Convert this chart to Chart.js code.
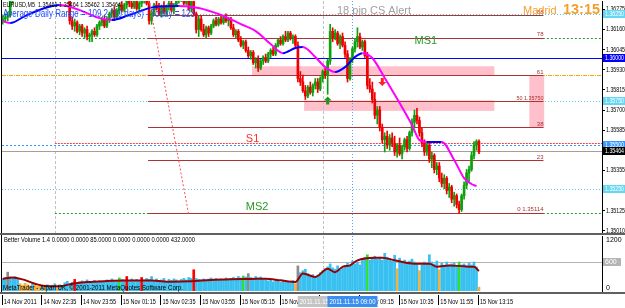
<!DOCTYPE html>
<html>
<head>
<meta charset="utf-8">
<script src="https://cdn.jsdelivr.net/npm/chart.js@4.4.0/dist/chart.umd.min.js"></script>
<style>
html, body { margin: 0; padding: 0; background: #fff; }
#wrap { position: relative; width: 625px; height: 308px; overflow: hidden; }
canvas { position: absolute; left: 0; }
#main { top: 0; }
#vol { top: 233px; }
</style>
</head>
<body>
<div id="wrap">
  <canvas id="main" width="625" height="233"></canvas>
  <canvas id="vol" width="625" height="75"></canvas>
</div>
<script>
// EURUSD M5 candles, bar 0 = 14 Nov 21:15
const open = [1.3621,1.3622,1.3623,1.3624,1.3633,1.3636,1.3635,1.3637,1.3638,1.3637,
 1.3639,1.3640,1.3639,1.3637,1.3639,1.3641,1.3640,1.3638,1.3640,1.3641,
 1.3638,1.3636,1.3638,1.3636,1.3637,1.3635,1.3636,1.3634,1.3621,1.3618,
 1.3620,1.3615,1.3618,1.3614,1.3616,1.3612,1.3613,1.3615,1.3613,1.3618,
 1.3620,1.3622,1.3618,1.3622,1.3625,1.3627,1.3623,1.3627,1.3630,1.3627,
 1.3630,1.3633,1.3631,1.3629,1.3632,1.3628,1.3631,1.3633,1.3634,1.3631,
 1.3621,1.3626,1.3630,1.3628,1.3625,1.3629,1.3626,1.3629,1.3631,1.3627,
 1.3630,1.3633,1.3634,1.3635,1.3631,1.3634,1.3628,1.3632,1.3625,1.3616,
 1.3622,1.3616,1.3613,1.3617,1.3614,1.3618,1.3621,1.3619,1.3622,1.3620,
 1.3623,1.3621,1.3622,1.3617,1.3613,1.3615,1.3610,1.3607,1.3609,1.3604,
 1.3601,1.3603,1.3597,1.3599,1.3594,1.3598,1.3600,1.3598,1.3602,1.3604,
 1.3602,1.3607,1.3610,1.3608,1.3612,1.3610,1.3614,1.3611,1.3612,1.3607,
 1.3588,1.3586,1.3581,1.3578,1.3583,1.3580,1.3584,1.3586,1.3582,1.3588,
 1.3592,1.3590,1.3598,1.3615,1.3611,1.3614,1.3608,1.3612,1.3607,1.3602,
 1.3588,1.3599,1.3605,1.3609,1.3612,1.3606,1.3609,1.3601,1.3584,1.3582,
 1.3576,1.3567,1.3570,1.3560,1.3553,1.3555,1.3550,1.3554,1.3551,1.3546,
 1.3550,1.3545,1.3549,1.3553,1.3548,1.3557,1.3563,1.3567,1.3564,1.3557,
 1.3551,1.3546,1.3550,1.3542,1.3544,1.3536,1.3538,1.3531,1.3528,1.3531,
 1.3524,1.3526,1.3519,1.3521,1.3516,1.3513,1.3521,1.3527,1.3534,1.3536,
 1.3544,1.3550,1.3552];
const high = [1.3624,1.3625,1.3626,1.3634,1.3637,1.3639,1.3638,1.3640,1.3641,1.3640,
 1.3642,1.3643,1.3641,1.3640,1.3642,1.3644,1.3642,1.3641,1.3643,1.3643,
 1.3640,1.3639,1.3640,1.3639,1.3639,1.3638,1.3638,1.3636,1.3623,1.3622,
 1.3621,1.3619,1.3619,1.3617,1.3618,1.3614,1.3616,1.3617,1.3619,1.3621,
 1.3623,1.3624,1.3623,1.3626,1.3628,1.3629,1.3628,1.3631,1.3632,1.3631,
 1.3634,1.3635,1.3634,1.3633,1.3634,1.3632,1.3634,1.3636,1.3637,1.3635,
 1.3627,1.3631,1.3633,1.3631,1.3630,1.3632,1.3630,1.3633,1.3633,1.3631,
 1.3634,1.3636,1.3637,1.3637,1.3635,1.3636,1.3633,1.3634,1.3626,1.3624,
 1.3624,1.3619,1.3618,1.3618,1.3619,1.3622,1.3623,1.3623,1.3624,1.3624,
 1.3625,1.3623,1.3623,1.3619,1.3616,1.3616,1.3612,1.3610,1.3610,1.3606,
 1.3604,1.3604,1.3600,1.3601,1.3599,1.3601,1.3602,1.3603,1.3605,1.3606,
 1.3608,1.3611,1.3612,1.3613,1.3615,1.3615,1.3615,1.3613,1.3613,1.3609,
 1.3592,1.3590,1.3584,1.3584,1.3586,1.3585,1.3588,1.3588,1.3589,1.3593,
 1.3594,1.3599,1.3619,1.3617,1.3616,1.3615,1.3613,1.3614,1.3609,1.3604,
 1.3600,1.3606,1.3611,1.3617,1.3614,1.3610,1.3610,1.3603,1.3588,1.3586,
 1.3580,1.3572,1.3572,1.3562,1.3557,1.3558,1.3556,1.3557,1.3555,1.3551,
 1.3554,1.3550,1.3554,1.3555,1.3558,1.3565,1.3570,1.3571,1.3566,1.3560,
 1.3553,1.3552,1.3551,1.3546,1.3545,1.3540,1.3540,1.3534,1.3533,1.3532,
 1.3528,1.3527,1.3523,1.3522,1.3518,1.3522,1.3529,1.3536,1.3538,1.3546,
 1.3552,1.3553,1.3553];
const low = [1.3619,1.3620,1.3621,1.3623,1.3631,1.3634,1.3633,1.3635,1.3636,1.3635,
 1.3637,1.3638,1.3636,1.3635,1.3637,1.3639,1.3637,1.3636,1.3638,1.3637,
 1.3635,1.3634,1.3635,1.3634,1.3634,1.3633,1.3633,1.3619,1.3616,1.3615,
 1.3614,1.3613,1.3612,1.3611,1.3610,1.3609,1.3609,1.3612,1.3612,1.3616,
 1.3618,1.3617,1.3617,1.3620,1.3623,1.3622,1.3622,1.3625,1.3626,1.3626,
 1.3628,1.3629,1.3628,1.3628,1.3627,1.3626,1.3629,1.3631,1.3630,1.3619,
 1.3619,1.3624,1.3627,1.3624,1.3623,1.3625,1.3624,1.3627,1.3626,1.3625,
 1.3629,1.3631,1.3632,1.3630,1.3630,1.3627,1.3626,1.3624,1.3614,1.3612,
 1.3615,1.3612,1.3611,1.3612,1.3613,1.3617,1.3618,1.3618,1.3619,1.3619,
 1.3620,1.3618,1.3616,1.3612,1.3611,1.3609,1.3606,1.3605,1.3603,1.3600,
 1.3599,1.3596,1.3594,1.3592,1.3593,1.3596,1.3597,1.3597,1.3600,1.3601,
 1.3601,1.3606,1.3607,1.3607,1.3609,1.3609,1.3610,1.3608,1.3606,1.3586,
 1.3584,1.3580,1.3576,1.3577,1.3579,1.3578,1.3582,1.3580,1.3581,1.3586,
 1.3588,1.3579,1.3596,1.3609,1.3610,1.3607,1.3605,1.3606,1.3600,1.3586,
 1.3587,1.3597,1.3603,1.3606,1.3605,1.3604,1.3600,1.3582,1.3580,1.3574,
 1.3565,1.3562,1.3558,1.3551,1.3546,1.3548,1.3547,1.3549,1.3544,1.3543,
 1.3544,1.3542,1.3547,1.3546,1.3547,1.3555,1.3560,1.3562,1.3555,1.3549,
 1.3544,1.3544,1.3540,1.3537,1.3534,1.3533,1.3529,1.3526,1.3525,1.3522,
 1.3520,1.3517,1.3515,1.3514,1.3511,1.3512,1.3519,1.3525,1.3529,1.3535,
 1.3542,1.3547,1.3545];
const close = [1.3622,1.3623,1.3624,1.3633,1.3636,1.3635,1.3637,1.3638,1.3637,1.3639,
 1.3640,1.3639,1.3637,1.3639,1.3641,1.3640,1.3638,1.3640,1.3641,1.3638,
 1.3636,1.3638,1.3636,1.3637,1.3635,1.3636,1.3634,1.3621,1.3618,1.3620,
 1.3615,1.3618,1.3614,1.3616,1.3612,1.3613,1.3615,1.3613,1.3618,1.3620,
 1.3622,1.3618,1.3622,1.3625,1.3627,1.3623,1.3627,1.3630,1.3627,1.3630,
 1.3633,1.3631,1.3629,1.3632,1.3628,1.3631,1.3633,1.3634,1.3631,1.3621,
 1.3626,1.3630,1.3628,1.3625,1.3629,1.3626,1.3629,1.3631,1.3627,1.3630,
 1.3633,1.3634,1.3635,1.3631,1.3634,1.3628,1.3632,1.3625,1.3616,1.3622,
 1.3616,1.3613,1.3617,1.3614,1.3618,1.3621,1.3619,1.3622,1.3620,1.3623,
 1.3621,1.3622,1.3617,1.3613,1.3615,1.3610,1.3607,1.3609,1.3604,1.3601,
 1.3603,1.3597,1.3599,1.3594,1.3598,1.3600,1.3598,1.3602,1.3604,1.3602,
 1.3607,1.3610,1.3608,1.3612,1.3610,1.3614,1.3611,1.3612,1.3607,1.3588,
 1.3586,1.3581,1.3578,1.3583,1.3580,1.3584,1.3586,1.3582,1.3588,1.3592,
 1.3590,1.3598,1.3615,1.3611,1.3614,1.3608,1.3612,1.3607,1.3602,1.3588,
 1.3599,1.3605,1.3609,1.3612,1.3606,1.3609,1.3601,1.3584,1.3582,1.3576,
 1.3567,1.3570,1.3560,1.3553,1.3555,1.3550,1.3554,1.3551,1.3546,1.3550,
 1.3545,1.3549,1.3553,1.3548,1.3557,1.3563,1.3567,1.3564,1.3557,1.3551,
 1.3546,1.3550,1.3542,1.3544,1.3536,1.3538,1.3531,1.3528,1.3531,1.3524,
 1.3526,1.3519,1.3521,1.3516,1.3513,1.3521,1.3527,1.3534,1.3536,1.3544,
 1.3550,1.3552,1.3546];

// moving average (bar, price)
const maBars = [0,3,9,17,23,31,39,44,51,61,71,79,88,96,102,108,113,118,121,126,130,134,138,142,145,149,154,160,165,168,171,177,182,186,189,191];
const maPrices = [1.36208,1.36197,1.36237,1.36283,1.36300,1.36271,1.36225,1.36214,1.36243,1.36288,1.36294,1.36283,1.36243,1.36191,1.36151,1.36077,1.36025,1.36054,1.36060,1.36003,1.35945,1.35917,1.35945,1.36003,1.36025,1.35997,1.35883,1.35740,1.35614,1.35528,1.35517,1.35517,1.35414,1.35311,1.35277,1.35265];

// dotted trend line
const diagBars = [59.2, 75];
const diagPrices = [1.36310, 1.35100];

// horizontal levels
const levelPrices = [1.36250, 1.36110, 1.36000, 1.35900, 1.35750, 1.35511, 1.35500, 1.35464, 1.35250, 1.35109];
const levelStartBar = [null, 21, null, null, null, 21, null, null, null, 21];

// fibonacci retracement
const fibPrices = [1.35114, 1.35414, 1.35600, 1.35750, 1.35900, 1.36114, 1.36241];
const fibLabels = ['0 1.35114', '23', '38', '50 1.35750', '61', '78', '88'];
const fibFromBar = 58.6, fibToBar = 218;

// pink zones
const zoneFrom = [100.5, 121.5, 212.3];
const zoneTo = [198.2, 198.2, 218.3];
const zoneTop = [1.35950, 1.35755, 1.35899];
const zoneBottom = [1.35898, 1.35695, 1.35597];

// signal arrows
const arrowBars = [131, 153];
const arrowPrices = [1.35755, 1.35860];
const arrowUp = [true, false];

const vLineBars = [21, 129, 141];

const priceTicks = [1.36275,1.36160,1.36045,1.35930,1.35815,1.35700,1.35585,1.35470,1.35355,1.35240,1.35125,1.35010];
const priceTags = [1.36250, 1.36000, 1.35750, 1.35500, 1.35464, 1.35250];

const timeTickBars = [0,16,32,48,64,80,96,112,128,144,160,176,192];
const timeLabels = ['14 Nov 2011','14 Nov 22:35','14 Nov 23:55','15 Nov 01:15','15 Nov 02:35','15 Nov 03:55','15 Nov 05:15','15 Nov 06:35','15 Nov 07:55','15 Nov 09:15','15 Nov 10:35','15 Nov 11:55','15 Nov 13:15'];
const markerBars = [129, 141];
const markerLabels = ['2011.11.15 08:00', '2011.11.15 09:00'];

// Better Volume
const volume = [250,270,390,290,260,300,240,150,120,160,
 130,110,170,120,100,140,110,90,130,100,
 120,150,90,130,110,170,200,150,180,240,
 160,190,210,180,230,200,170,220,190,210,
 180,200,230,190,250,220,210,270,240,230,
 300,210,250,220,240,200,280,230,260,240,
 300,220,250,210,230,260,200,240,220,250,
 230,210,240,260,230,280,260,440,260,240,
 230,250,230,250,270,240,260,220,250,240,
 270,230,260,280,250,300,270,310,290,360,
 280,260,300,270,290,260,240,210,230,190,
 220,200,180,210,190,200,170,220,150,520,
 380,420,450,360,320,340,300,330,380,420,
 460,500,560,480,450,520,430,470,500,580,
 520,620,560,600,540,660,700,750,640,680,
 720,660,700,640,780,700,660,620,740,460,
 680,600,640,580,620,660,600,560,420,540,
 600,560,750,600,560,620,440,580,520,600,
 540,560,580,520,600,540,560,520,580,540,
 600,500,80];
const volSpecialBars = [2,7,8,9,10,11,13,14,15,17,22,29,47,50,56,77,97,99,118,119,147,159,168,176,184,192];
const volSpecialKind = ['k','y','y','y','y','y','y','y','y','y','y','r','g','r','r','r','g','k','y','k','g','y','y','y','g','y'];
const volMaBars = [0,4,8,13,17,23,28,34,42,50,60,68,76,84,92,100,106,112,118,121,126,131,134,137,140,143,150,153,158,166,172,175,180,186,190,192];
const volMaValues = [250,280,240,150,105,100,150,185,205,215,215,190,200,230,245,250,255,220,186,360,290,460,390,500,530,635,690,690,635,565,565,500,530,510,500,415];

const FONT = '"Liberation Sans", Arial, sans-serif';
const bars = close.map((c, i) => i);
const candleColors = close.map((c, i) => c >= open[i] ? '#0ca00c' : '#f00000');

function hline(ctx, x1, x2, y, color, dash, w) {
    ctx.save();
    ctx.strokeStyle = color;
    ctx.lineWidth = w || 1;
    ctx.setLineDash(dash || []);
    const yy = Math.round(y) + 0.5;
    ctx.beginPath(); ctx.moveTo(x1, yy); ctx.lineTo(x2, yy); ctx.stroke();
    ctx.restore();
}
function vline(ctx, x, y1, y2, color, dash) {
    ctx.save();
    ctx.strokeStyle = color;
    ctx.lineWidth = 1;
    ctx.setLineDash(dash || []);
    const xx = Math.round(x) + 0.5;
    ctx.beginPath(); ctx.moveTo(xx, y1); ctx.lineTo(xx, y2); ctx.stroke();
    ctx.restore();
}
function text(ctx, s, x, y, font, color, maxW, align) {
    ctx.font = font + ' ' + FONT;
    ctx.fillStyle = color;
    ctx.textAlign = align || 'left';
    ctx.textBaseline = 'middle';
    if (maxW) ctx.fillText(s, x, y, maxW); else ctx.fillText(s, x, y);
}
function arrow(ctx, cx, cy, up, color) {
    const s = up ? -1 : 1;
    ctx.fillStyle = color;
    ctx.beginPath();
    ctx.moveTo(cx, cy + s * 4);
    ctx.lineTo(cx - 4, cy);
    ctx.lineTo(cx - 1.5, cy);
    ctx.lineTo(cx - 1.5, cy - s * 4);
    ctx.lineTo(cx + 1.5, cy - s * 4);
    ctx.lineTo(cx + 1.5, cy);
    ctx.lineTo(cx + 4, cy);
    ctx.closePath();
    ctx.fill();
}

const levelStyles = [
    {c: '#5cc8dc', d: [1, 2]},
    {c: '#2a962a', d: [2, 2]},
    {c: '#0000ff', d: []},
    {c: '#ffa500', d: [4, 1, 1, 1]},
    {c: '#5cc8dc', d: [1, 2]},
    {c: '#ff4040', d: [2, 1]},
    {c: '#3399ff', d: [2, 2]},
    {c: '#a0a0a0', d: []},
    {c: '#5cc8dc', d: [1, 2]},
    {c: '#2a962a', d: [2, 2]}
];
const tagStyles = [
    {bg: '#66d6f2', fg: '#ffffff'},
    {bg: '#0000ff', fg: '#ffffff'},
    {bg: '#66d6f2', fg: '#ffffff'},
    {bg: '#3399ff', fg: '#ffffff'},
    {bg: '#000000', fg: '#ffffff'},
    {bg: '#66d6f2', fg: '#ffffff'}
];

const mainDecor = {
    id: 'mainDecor',
    beforeDatasetsDraw(chart) {
        const {ctx, chartArea: a, scales: {x, y}} = chart;
        ctx.save();
        ctx.beginPath(); ctx.rect(a.left, a.top, a.right - a.left, a.bottom - a.top); ctx.clip();
        ctx.fillStyle = '#ffc0cb';
        zoneFrom.forEach((f, k) => {
            const x1 = x.getPixelForValue(f), x2 = x.getPixelForValue(zoneTo[k]);
            const y1 = y.getPixelForValue(zoneTop[k]), y2 = y.getPixelForValue(zoneBottom[k]);
            ctx.fillRect(x1, y1, x2 - x1, y2 - y1);
        });
        vline(ctx, x.getPixelForValue(vLineBars[0]), a.top, a.bottom, '#c0c0c8', [3, 2]);
        vline(ctx, x.getPixelForValue(vLineBars[1]), a.top, a.bottom, '#c0c0c8', [3, 2]);
        vline(ctx, x.getPixelForValue(vLineBars[2]), a.top, a.bottom, '#5aa0f0', [1, 2]);
        levelPrices.forEach((p, k) => {
            const st = levelStyles[k];
            const x1 = levelStartBar[k] == null ? a.left : x.getPixelForValue(levelStartBar[k]);
            hline(ctx, x1, a.right, y.getPixelForValue(p), st.c, st.d, 1);
        });
        const fx1 = x.getPixelForValue(fibFromBar), fx2 = x.getPixelForValue(fibToBar);
        fibPrices.forEach(p => hline(ctx, fx1, fx2, y.getPixelForValue(p), '#a83434', [], 1));
        ctx.restore();
    },
    afterDraw(chart) {
        const {ctx, chartArea: a, scales: {x, y}} = chart;
        ctx.save();
        // price axis labels
        y.ticks.forEach(t => text(ctx, t.value.toFixed(5), a.right + 4, y.getPixelForValue(t.value), '7px', '#000', 19));
        priceTags.forEach((p, k) => {
            const yy = Math.round(y.getPixelForValue(p));
            ctx.fillStyle = tagStyles[k].bg;
            ctx.fillRect(a.right + 1, yy - 4, 23, 8);
            text(ctx, p.toFixed(5), a.right + 3, yy, '7px', tagStyles[k].fg, 19);
        });

        ctx.beginPath(); ctx.rect(a.left, a.top, a.right - a.left, a.bottom - a.top); ctx.clip();
        // fib labels
        const fx2 = x.getPixelForValue(fibToBar);
        fibPrices.forEach((p, k) => text(ctx, fibLabels[k], fx2, y.getPixelForValue(p) - 3, '6px', '#a83434', fibLabels[k].length > 3 ? 27 : null, 'right'));
        // arrows
        arrowBars.forEach((b, k) => arrow(ctx, x.getPixelForValue(b), y.getPixelForValue(arrowPrices[k]), arrowUp[k], arrowUp[k] ? '#1c9a1c' : '#ff2020'));
        // level names
        text(ctx, 'MS1', x.getPixelForValue(166), y.getPixelForValue(levelPrices[1]) + 3, '11px', '#2a962a');
        text(ctx, 'S1', x.getPixelForValue(98), y.getPixelForValue(levelPrices[5]) - 4, '11px', '#ff3030');
        text(ctx, 'MS2', x.getPixelForValue(98), y.getPixelForValue(levelPrices[9]) - 6, '11px', '#2a962a');
        // header texts
        text(ctx, 'EURUSD,M5  1.35461 1.35464 1.35462 1.35464', a.left + 1, a.top + 4, '7px', '#000', 118);
        text(ctx, 'Average Daily Range = 109.2 (10 days) - Today = 123', a.left + 1, a.top + 13, '10px', '#2a48ff', 192);
        text(ctx, '18 pip CS Alert', 337, a.top + 10, '11px', '#a0a0a0', 74);
        text(ctx, 'Madrid', 523, a.top + 9.5, '11px', '#f2a030', 35);
        text(ctx, '13:15', 563, a.top + 8.5, 'bold 15px', '#f2a030', 37);
        ctx.restore();
        // window edge
        ctx.fillStyle = '#000';
        ctx.fillRect(1, 0, 1, chart.height);
    }
};

new Chart(document.getElementById('main'), {
    type: 'bar',
    data: {
        datasets: [{
            label: 'wick',
            data: bars.map(i => ({x: i, y: [low[i], high[i]]})),
            backgroundColor: candleColors,
            barThickness: 1,
            grouped: false,
            order: 3
        }, {
            label: 'body',
            data: bars.map(i => ({x: i, y: [open[i], close[i]]})),
            backgroundColor: candleColors,
            barThickness: 2,
            minBarLength: 1,
            grouped: false,
            order: 2
        }, {
            type: 'line',
            label: 'MA',
            data: maBars.map((b, k) => ({x: b, y: maPrices[k]})),
            borderColor: '#ff00ff',
            borderWidth: 2,
            pointRadius: 0,
            cubicInterpolationMode: 'monotone',
            segment: {
                borderColor: c => c.p1.parsed.y >= c.p0.parsed.y ? '#0000ff' : '#ff00ff'
            },
            order: 1
        }, {
            type: 'line',
            label: 'trend',
            data: diagBars.map((b, k) => ({x: b, y: diagPrices[k]})),
            borderColor: '#ff5050',
            borderWidth: 1,
            borderDash: [2, 2],
            pointRadius: 0,
            order: 0
        }]
    },
    options: {
        responsive: false,
        animation: false,
        devicePixelRatio: 1,
        events: [],
        layout: {padding: {left: 2, top: 1, right: 0, bottom: 0}},
        plugins: {legend: {display: false}, tooltip: {enabled: false}},
        scales: {
            x: {type: 'linear', min: -0.3, max: 241.6, offset: false, display: false},
            y: {
                type: 'linear',
                position: 'right',
                min: 1.34997,
                max: 1.36323,
                afterBuildTicks: s => { s.ticks = priceTicks.map(v => ({value: v})); },
                afterFit: s => { s.width = 23; },
                ticks: {display: false},
                grid: {drawOnChartArea: false, drawTicks: true, tickLength: 3, color: '#000'},
                border: {display: true, color: '#000'}
            }
        }
    },
    plugins: [mainDecor]
});

// volume window
const volColorMap = {b: '#38c0f0', r: '#ff0000', g: '#30e030', k: '#8c8c8c', y: '#f2b040'};
const volColors = volume.map(() => volColorMap.b);
volSpecialBars.forEach((b, k) => { volColors[b] = volColorMap[volSpecialKind[k]]; });

const volDecor = {
    id: 'volDecor',
    beforeDatasetsDraw(chart) {
        const {ctx, chartArea: a, scales: {x, y}} = chart;
        hline(ctx, a.left, a.right, y.getPixelForValue(600), '#b4b4b4', [], 1);
        vline(ctx, x.getPixelForValue(markerBars[0]), a.top, a.bottom, '#c0c0c8', [3, 2]);
        vline(ctx, x.getPixelForValue(markerBars[1]), a.top, a.bottom, '#5aa0f0', [1, 2]);
    },
    afterDraw(chart) {
        const {ctx, chartArea: a, scales: {x, y}} = chart;
        ctx.save();
        text(ctx, 'Better Volume 1.4 0.0000 0.0000 85.0000 0.0000 0.0000 0.0000 432.0000', a.left + 2, a.top + 4, '7px', '#000', 191);
        text(ctx, 'MetaTrader - Alpari UK, \u00a9 2001-2011 MetaQuotes Software Corp.', a.left + 1, a.bottom - 3, '7px', '#000', 180);
        // volume axis
        text(ctx, '1200', a.right + 4, a.top + 4, '7px', '#000', 19);
        const y600 = Math.round(y.getPixelForValue(600));
        ctx.fillStyle = '#b4b4b4';
        ctx.fillRect(a.right + 1, y600 - 4, 18, 8);
        text(ctx, '600', a.right + 3, y600, '7px', '#fff', 16);
        text(ctx, '0', a.right + 4, y.getPixelForValue(0) - 3, '7px', '#000');
        // window separators
        ctx.fillStyle = '#606060';
        ctx.fillRect(0, 0, chart.width, 2);
        ctx.fillRect(0, a.bottom + 1, chart.width, 2);
        ctx.fillStyle = '#000';
        ctx.fillRect(1, 2, 1, a.bottom - 1);
        // time axis
        const ty = a.bottom + 11;
        timeTickBars.forEach((b, k) => {
            const px = x.getPixelForValue(b);
            vline(ctx, px - 1, a.bottom + 4, a.bottom + 14, '#000');
            text(ctx, timeLabels[k], px + 1, ty, '7px', '#000', 33);
        });
        const boxColors = ['#c4c4c4', '#3a8ef0'];
        markerBars.forEach((b, k) => {
            const px = x.getPixelForValue(b);
            ctx.fillStyle = boxColors[k];
            ctx.fillRect(px - 25, a.bottom + 5, 50, 11);
            text(ctx, markerLabels[k], px - 23, ty, '7px', '#fff', 46);
        });
        ctx.restore();
    }
};

new Chart(document.getElementById('vol'), {
    type: 'bar',
    data: {
        datasets: [{
            label: 'volume',
            data: bars.map(i => ({x: i, y: volume[i]})),
            backgroundColor: volColors,
            barThickness: 2,
            order: 2
        }, {
            type: 'line',
            label: 'avg',
            data: volMaBars.map((b, k) => ({x: b, y: volMaValues[k]})),
            borderColor: '#990000',
            borderWidth: 2,
            pointRadius: 0,
            cubicInterpolationMode: 'monotone',
            order: 1
        }]
    },
    options: {
        responsive: false,
        animation: false,
        devicePixelRatio: 1,
        events: [],
        layout: {padding: {left: 2, top: 3, right: 0, bottom: 17}},
        plugins: {legend: {display: false}, tooltip: {enabled: false}},
        scales: {
            x: {type: 'linear', min: -0.3, max: 241.6, offset: false, display: false},
            y: {
                type: 'linear',
                position: 'right',
                min: 0,
                max: 1138,
                afterFit: s => { s.width = 23; },
                ticks: {display: false},
                grid: {display: false},
                border: {display: true, color: '#000'}
            }
        }
    },
    plugins: [volDecor]
});
</script>
</body>
</html>
